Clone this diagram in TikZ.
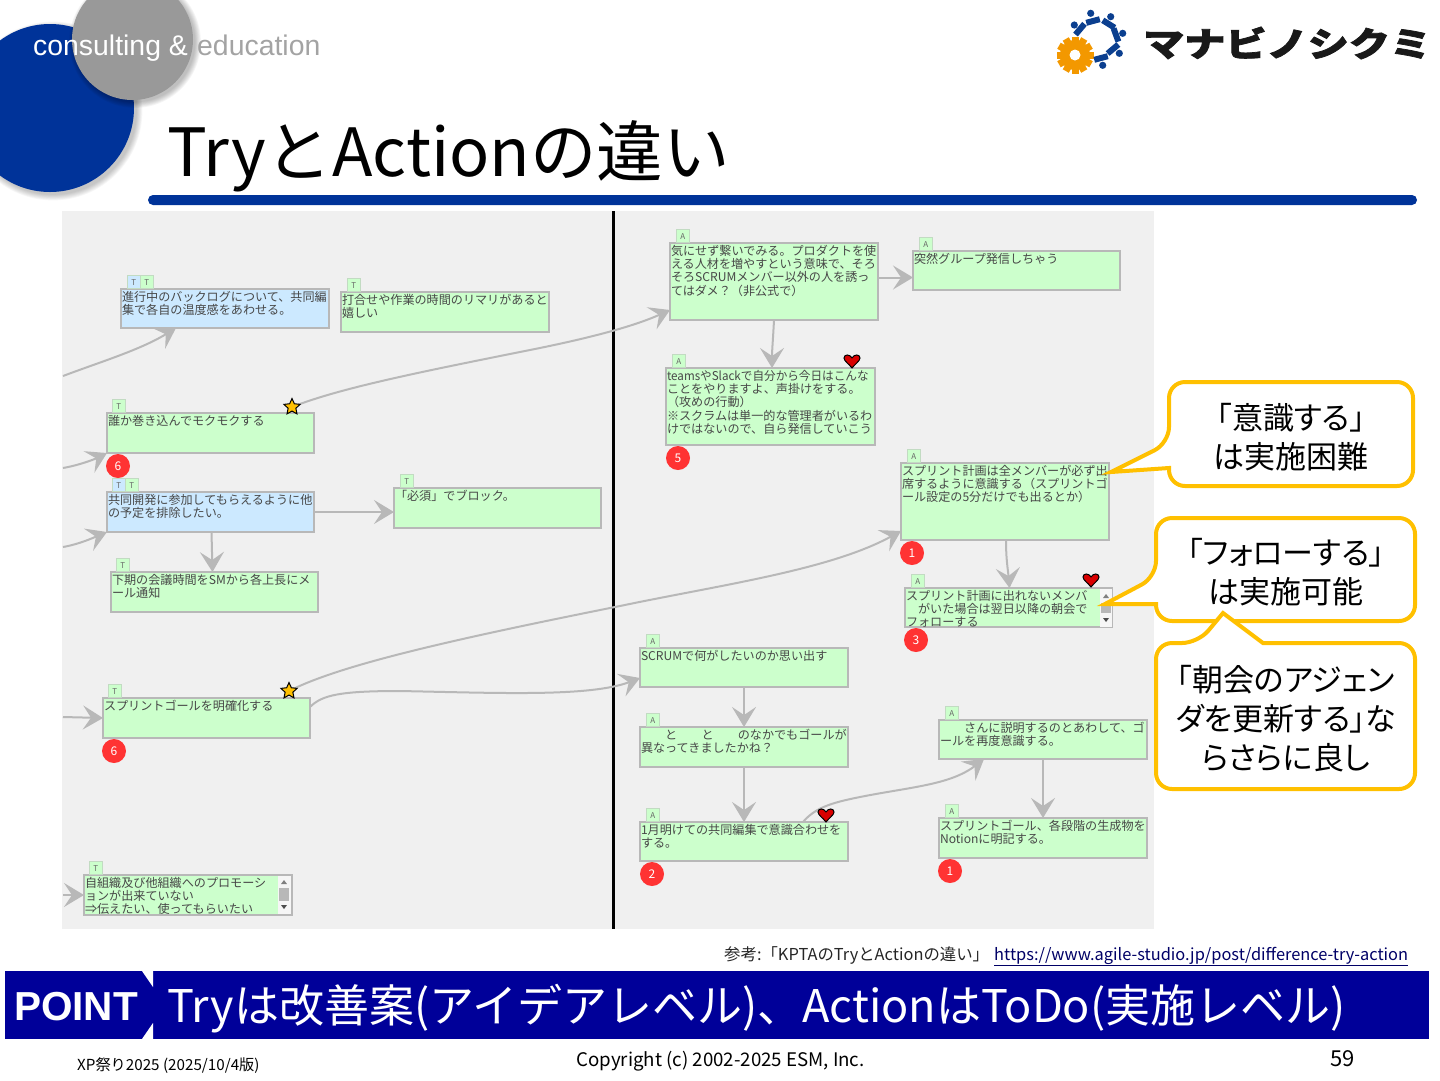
\documentclass[tikz,border=0pt]{standalone}
\usepackage{fontspec}
\usepackage{graphicx}
\setmainfont{Noto Sans CJK JP}
\newfontfamily\arialf{Liberation Sans}
\newfontfamily\logofont[BoldFeatures={FakeBold=2.2}]{Noto Sans CJK JP}
\newfontfamily\palfont[RawFeature=+palt]{Noto Sans CJK JP}
\usetikzlibrary{arrows.meta,shapes.geometric}
\definecolor{slidebg}{HTML}{F0F0F0}
\definecolor{greenbox}{HTML}{CCFFCC}
\definecolor{bluebox}{HTML}{CCE9FF}
\definecolor{boxedge}{HTML}{B8B8B8}
\definecolor{linkgray}{HTML}{B8B8B8}
\definecolor{callout}{HTML}{FFC000}
\definecolor{corpblue}{HTML}{003399}
\definecolor{barblue}{HTML}{000099}
\definecolor{circgray}{HTML}{999999}
\definecolor{gearorange}{HTML}{F39800}
\definecolor{logoblue}{HTML}{0B3F8F}
\definecolor{redmark}{HTML}{FF3333}
\newcommand{\pxf}[1]{\fontsize{#1}{#1}\selectfont}
\newcommand{\stk}[3]{\parbox[t][#2pt][t]{#1pt}{\fontsize{12.1}{13.3}\selectfont\raggedright\vspace{1pt}#3}}
\tikzset{
  x=1pt,y=-1pt,
  greenstk/.style={draw=boxedge,fill=greenbox,line width=1.5pt,anchor=north west,inner sep=1pt,outer sep=0pt,text=black!72},
  bluestk/.style={greenstk,fill=bluebox},
  tagbox/.style={draw=boxedge!50!greenbox,fill=greenbox,line width=.7pt,minimum width=13pt,minimum height=13pt,inner sep=0pt,anchor=south west,font=\pxf{8},text=black!60},
  bluetag/.style={tagbox,fill=bluebox},
  nummark/.style={circle,fill=redmark,minimum size=24pt,inner sep=0pt,text=white,font=\pxf{12}},
  starmark/.style={star,star points=5,star point ratio=2.1,fill=callout,draw=black,line width=1pt,minimum size=17pt,inner sep=0pt},
  conn/.style={draw=linkgray,line width=2pt,-{Stealth[length=20pt,width=24pt,inset=8pt]}},
  calloutline/.style={draw=callout,fill=white,line width=4pt,line join=miter},
  callouttext/.style={align=center,font=\palfont\fontsize{31}{39}\selectfont,text=black},
  heartmark/.pic={
    \draw[fill=red!85!black,draw=black,line width=1pt] (0,7) .. controls (-3,3) and (-8,0) .. (-8,-3) .. controls (-8,-7) and (-2,-7) .. (0,-3) .. controls (2,-7) and (8,-7) .. (8,-3) .. controls (8,0) and (3,3) .. (0,7) -- cycle;
  }
}
\begin{document}
\begin{tikzpicture}
\useasboundingbox (0,0) rectangle (1440,1080);
% header circles with soft shadows
\foreach \r in {1,2,...,8}{\fill[black,opacity=.03] (53,111) circle ({83+\r*.8});}
\fill[corpblue] (50,108) circle (84);
\foreach \r in {1,2,...,8}{\fill[black,opacity=.035] (135,42) circle ({59.5+\r*.8});}
\fill[circgray] (132.5,39.5) circle (60.5);
\node[anchor=base west,inner sep=0pt,font=\arialf\pxf{28.4},text=white] (tagline) at (33,55) {consulting \&};
\node[anchor=base west,inner sep=0pt,font=\arialf\pxf{28.4},text=circgray!90!white] (tagline2) at (197,55) {education};
% logo
\foreach \a in {0,30,...,330}{\fill[gearorange,rotate around={\a:(1075,55)}] (1071.5,36.5) rectangle (1078.5,46);}
\fill[gearorange] (1075,55) circle (15);
\fill[white] (1075,55) circle (5.5);
\foreach \dx/\dy/\bx/\by/\ba in {1090.7/13.3/1093/21/15,1110.7/16.7/1108.7/24/-32,1122.7/33.3/1116/35/-70,1119.3/53.3/1113/49/40,1102.7/65.3/1101/58/15,1074.3/25/1080/29.2/50}{
  \fill[logoblue] (\dx,\dy) circle (3.6);
  \fill[logoblue,rotate around={\ba:(\bx,\by)}] (\bx-7,\by-3) rectangle (\bx+7,\by+3);
}
\node[anchor=west,inner sep=0pt,text=black!90] (logotext) at (1143,43) {\scalebox{1.21}[1]{\logofont\pxf{34}\bfseries マナビノシクミ}};
% title
\node[anchor=base west,inner sep=0pt,font=\pxf{66.5},text=black] (title) at (167,176) {TryとActionの違い};
\fill[corpblue,rounded corners=5pt] (148,195) rectangle (1417,205);
% panel
\fill[slidebg] (62,211) rectangle (1154,929);
\fill[black] (612,211) rectangle (615,929);
% left boxes
\node[bluestk] (n1) at (121,289) {\stk{206}{37}{進行中のバックログについて、共同編\\集で各自の温度感をあわせる。}};
\node[greenstk] (n2) at (341,292) {\stk{206}{38}{打合せや作業の時間のリマリがあると\\嬉しい}};
\node[greenstk] (n3) at (107,413) {\stk{205}{38}{誰か巻き込んでモクモクする}};
\node[bluestk] (n4) at (107,492) {\stk{205}{38}{共同開発に参加してもらえるように他\\の予定を排除したい。}};
\node[greenstk] (n5) at (394,488) {\stk{205}{38}{「必須」でブロック。}};
\node[greenstk] (n6) at (111,572) {\stk{205}{38}{下期の会議時間をSMから各上長にメ\\ール通知}};
\node[greenstk] (n7) at (103,698) {\stk{205}{38}{スプリントゴールを明確化する}};
\node[greenstk] (n8) at (84,875) {\stk{206}{38}{自組織及び他組織へのプロモーシ\\ョンが出来ていない\\⇒伝えたい、使ってもらいたい}};
% right boxes
\node[greenstk] (n11) at (670,243) {\stk{206}{75}{気にせず繋いでみる。プロダクトを使\\える人材を増やすという意味で、そろ\\そろSCRUMメンバー以外の人を誘っ\\てはダメ？（非公式で）}};
\node[greenstk] (n12) at (913,251) {\stk{205}{37}{突然グループ発信しちゃう}};
\node[greenstk] (n13) at (666,368) {\stk{207}{75}{\scalebox{0.96}[1]{teamsやSlackで自分から今日はこんな}\\ことをやりますよ、声掛けをする。\\（攻めの行動）\\※スクラムは単一的な管理者がいるわ\\けではないので、自ら発信していこう}};
\node[greenstk] (n14) at (901,463) {\stk{206}{75}{スプリント計画は全メンバーが必ず出\\席するように意識する（スプリントゴ\\ール設定の5分だけでも出るとか）}};
\node[greenstk] (n15) at (905,588) {\stk{205}{37}{スプリント計画に出れないメンバ\\　がいた場合は翌日以降の朝会で\\フォローする}};
\node[greenstk] (n16) at (640,648) {\stk{206}{37}{SCRUMで何がしたいのか思い出す}};
\node[greenstk] (n17) at (640,727) {\stk{206}{38}{　　と　　と　　のなかでもゴールが\\異なってきましたかね？}};
\node[greenstk] (n18) at (640,822) {\stk{206}{37}{1月明けての共同編集で意識合わせを\\する。}};
\node[greenstk] (n19) at (939,720) {\stk{206}{37}{　　さんに説明するのとあわして、ゴ\\ールを再度意識する。}};
\node[greenstk] (n20) at (939,818) {\stk{206}{38}{スプリントゴール、各段階の生成物を\\Notionに明記する。}};
% scrollbars
\fill[slidebg!60!white] (1100,589) rectangle (1112,626.5);
\fill[boxedge] (1101,603) rectangle (1111,613);
\fill[black!50] (1106,594) -- (1103,598) -- (1109,598) -- cycle;
\fill[black!70] (1106,622) -- (1103,618) -- (1109,618) -- cycle;
\fill[slidebg!60!white] (278,876) rectangle (291,914);
\fill[boxedge] (279,888) rectangle (289,901);
\fill[black!50] (284,880) -- (281,884) -- (287,884) -- cycle;
\fill[black!70] (284,909) -- (281,905) -- (287,905) -- cycle;
% tags
\node[bluetag] (t1a) at ([xshift=6pt]n1.north west) {T};
\node[tagbox] (t1b) at ([xshift=19pt]n1.north west) {T};
\node[tagbox] (t2) at ([xshift=6pt]n2.north west) {T};
\node[tagbox] (t3) at ([xshift=5pt]n3.north west) {T};
\node[bluetag] (t4a) at ([xshift=5pt]n4.north west) {T};
\node[tagbox] (t4b) at ([xshift=18pt]n4.north west) {T};
\node[tagbox] (t5) at ([xshift=6pt]n5.north west) {T};
\node[tagbox] (t6) at ([xshift=5pt]n6.north west) {T};
\node[tagbox] (t7) at ([xshift=5pt]n7.north west) {T};
\node[tagbox] (t8) at ([xshift=5pt]n8.north west) {T};
\foreach \n in {11,12,13,14,15,16,17,18,19,20}{\node[tagbox] (t\n) at ([xshift=6pt]n\n.north west) {A};}
% free ends
\coordinate (f1) at (63,376);
\coordinate (f2) at (63,468);
\coordinate (f3) at (63,547);
\coordinate (f4) at (63,717);
\coordinate (f5) at (63,895);
\coordinate (s1) at (292,407);
\coordinate (s2) at (289,691);
% connectors
\draw[conn] (f1) .. controls (100,362) and (140,350) .. ([xshift=55pt]n1.south west);
\draw[conn] (f2) .. controls (80,465) and (95,459) .. (n3.south west);
\draw[conn] (f3) .. controls (80,544) and (95,537) .. (n4.south west);
\draw[conn] (s1) .. controls (340,388) and (420,372) .. (530,350) .. controls (580,340) and (630,328) .. ([yshift=10pt]n11.south west);
\draw[conn] (n4.east) -- ([yshift=-24pt]n5.north west);
\draw[conn] ([xshift=1pt]n4.south) -- ([xshift=-2pt]n6.north);
\draw[conn] (s2) .. controls (340,665) and (450,640) .. (620,606) .. controls (720,585) and (830,570) .. ([yshift=9pt]n14.south west);
\draw[conn] ([yshift=11pt]n7.east) .. controls (322,695) and (340,691) .. (400,691) .. controls (500,693) and (590,697) .. ([yshift=9pt]n16.south west);
\draw[conn] (f4) -- (n7.west);
\draw[conn] (f5) -- (n8.west);
\draw[conn] ([yshift=4pt]n11.east) -- ([yshift=-7pt]n12.west);
\draw[conn] (n11.south) .. controls (773,340) and (772,350) .. ([xshift=1.5pt]n13.north);
\draw[conn] ([xshift=1pt]n14.south) .. controls (1006,560) and (1008,570) .. ([xshift=1pt]n15.north);
\draw[conn] (n16.south) -- (n17.north);
\draw[conn] (n17.south) -- (n18.north);
\draw[conn] ([xshift=-45pt]n18.north east) .. controls (815,808) and (830,803) .. (860,797) .. controls (910,787) and (950,785) .. ([xshift=45pt]n19.south west);
\draw[conn] (n19.south) -- (n20.north);
% marks
\node[starmark] (m1) at (s1) {};
\node[starmark] (m2) at (s2) {};
\pic at (852,361) {heartmark};
\pic at (1091,580) {heartmark};
\pic at (826,815) {heartmark};
\node[nummark] (b1) at (118,466) {6};
\node[nummark] (b2) at (678,458) {5};
\node[nummark] (b3) at (912,553) {1};
\node[nummark] (b4) at (916,640) {3};
\node[nummark] (b5) at (114,751) {6};
\node[nummark] (b6) at (652,874) {2};
\node[nummark] (b7) at (950,871) {1};
% callouts
\draw[calloutline,rounded corners=16pt] (1300,382) -- (1169,382) -- (1169,443) [sharp corners] -- (1111,472) -- (1169,468) [rounded corners=16pt] -- (1169,486) -- (1413,486) -- (1413,382) -- cycle;
\node[callouttext] (c1) at (1291,437) {「意識する」\\は実施困難};
\draw[calloutline,rounded corners=16pt] (1300,518) -- (1156,518) -- (1156,577) [sharp corners] -- (1105,604) -- (1156,604) [rounded corners=16pt] -- (1156,621) -- (1415,621) -- (1415,518) -- cycle;
\node[callouttext] (c2) at (1286,572) {「フォローする」\\は実施可能};
\draw[calloutline,rounded corners=16pt] (1156,700) -- (1156,643) -- (1198,643) [sharp corners] -- (1223,613) -- (1263,643) [rounded corners=16pt] -- (1415,643) -- (1415,789) -- (1156,789) -- cycle;
\node[callouttext] (c3) at (1286,719) {「朝会のアジェン\\ダを更新する」な\\らさらに良し};
% reference
\node[anchor=base west,inner sep=0pt,font=\pxf{16.4},text=black!85] (ref) at (724,960) {参考:「KPTAのTryとActionの違い」};
\node[anchor=base west,inner sep=0pt,font=\pxf{16.4},text=blue!40!black] (url) at (994,960) {\underline{https://www.agile-studio.jp/post/difference-try-action}};
% point bar
\fill[barblue] (5,971) rectangle (1429,1039);
\fill[white] (142,971) -- (153,971) -- (153,987) -- cycle;
\fill[white] (142,1039) -- (153,1039) -- (153,1023) -- cycle;
\node[anchor=base west,inner sep=0pt,font=\arialf\bfseries\pxf{40.5},text=white] (point) at (14,1020) {POINT};
\node[anchor=base west,inner sep=0pt,font=\pxf{45},text=white] (pointtext) at (167,1022) {Tryは改善案(アイデアレベル)、ActionはToDo(実施レベル)};
% footer
\node[anchor=base west,inner sep=0pt,font=\pxf{15.2},text=black] (foot1) at (77,1070) {XP祭り2025 (2025/10/4版)};
\node[anchor=base west,inner sep=0pt,font=\pxf{18.7},text=black] (foot2) at (576,1066) {Copyright (c) 2002-2025 ESM, Inc.};
\node[anchor=base west,inner sep=0pt,font=\pxf{22},text=black] (foot3) at (1330,1066) {59};
\end{tikzpicture}
\end{document}
